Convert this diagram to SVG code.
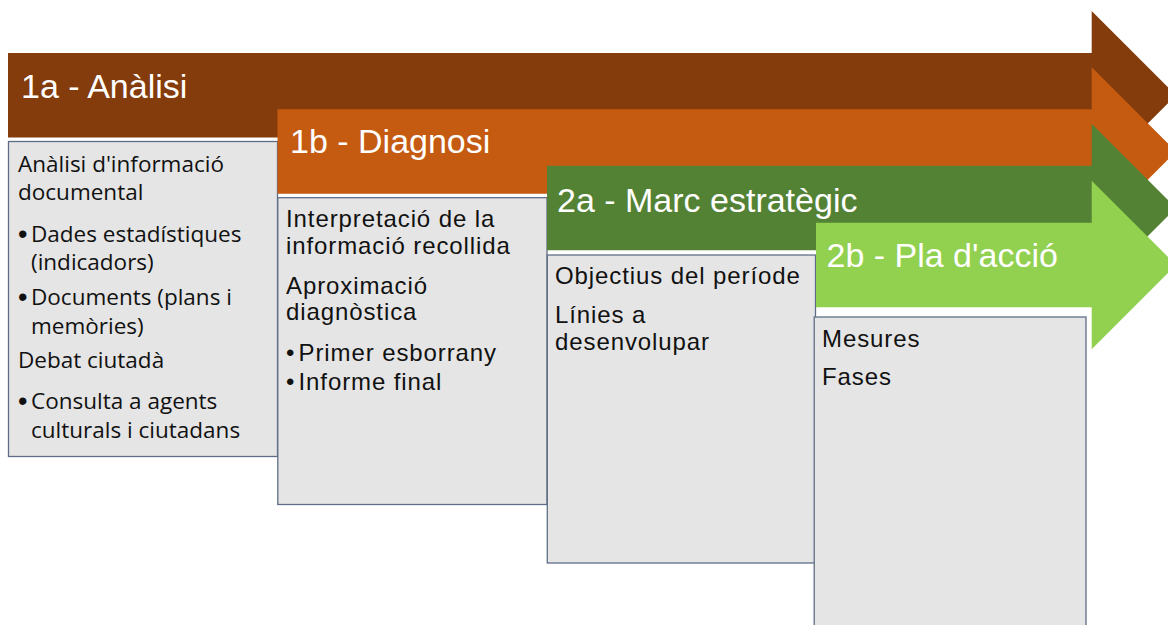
<svg xmlns="http://www.w3.org/2000/svg" width="1168" height="625" viewBox="0 0 1168 625">
<style>
.box{fill:#E5E5E5;stroke:#5F6E86;stroke-width:1.3}
.h{font-family:"Liberation Sans",Arial,sans-serif;font-size:34px;fill:#FFFFFF}
.c{font-family:"Open Sans","Noto Sans",sans-serif;font-size:22.5px;fill:#111111}
.b{font-family:"Liberation Sans",Arial,sans-serif;font-size:27px;fill:#111111}
.a{font-family:"Liberation Sans",Arial,sans-serif;font-size:24px;letter-spacing:0.9px;fill:#111111}
</style>
<rect width="1168" height="625" fill="#FFFFFF"/>
<g id="connectors"></g>
<g id="stage-1a">
<path d="M8,53 H1091.7 V11 L1176,95.25 L1091.7,179.5 V137.5 H8 Z" fill="#843C0C"/>
<rect class="box" x="8.5" y="141.5" width="269" height="315"/>
<text class="h" x="21" y="98">1a - Anàlisi</text>
<text class="c" x="18" y="171.7">Anàlisi d'informació</text>
<text class="c" x="18" y="200">documental</text>
<text class="b" x="18" y="243">•</text>
<text class="c" x="31" y="241.7">Dades estadístiques</text>
<text class="c" x="31" y="270">(indicadors)</text>
<text class="b" x="18" y="306.3">•</text>
<text class="c" x="31" y="305">Documents (plans i</text>
<text class="c" x="31" y="334">memòries)</text>
<text class="c" x="18" y="368">Debat ciutadà</text>
<text class="b" x="18" y="410.3">•</text>
<text class="c" x="31" y="409">Consulta a agents</text>
<text class="c" x="31" y="437.7">culturals i ciutadans</text>
</g>
<g id="stage-1b">
<path d="M277.5,109.3 H1091.7 V67.3 L1176,151.55 L1091.7,235.8 V193.8 H277.5 Z" fill="#C55A11"/>
<rect class="box" x="277.8" y="197.7" width="269.2" height="306.8"/>
<text class="h" x="290" y="153.3">1b - Diagnosi</text>
<text class="a" x="286" y="226.7">Interpretació de la</text>
<text class="a" x="286" y="254.3">informació recollida</text>
<text class="a" x="286" y="294">Aproximació</text>
<text class="a" x="286" y="320">diagnòstica</text>
<text class="a" x="286" y="360.7">•</text>
<text class="a" x="298.5" y="360.7">Primer esborrany</text>
<text class="a" x="286" y="390">•</text>
<text class="a" x="298.5" y="390">Informe final</text>
</g>
<g id="stage-2a">
<path d="M547,165.7 H1091.7 V123.7 L1176,207.95 L1091.7,292.2 V250.2 H547 Z" fill="#548235"/>
<rect class="box" x="547.3" y="255" width="268.2" height="308"/>
<text class="h" x="557" y="211.7">2a - Marc estratègic</text>
<text class="a" x="555" y="284">Objectius del període</text>
<text class="a" x="555" y="323.3">Línies a</text>
<text class="a" x="555" y="350">desenvolupar</text>
</g>
<g id="stage-2b">
<path d="M816,222.7 H1091.7 V180.7 L1176,264.95 L1091.7,349.2 V307.2 H816 Z" fill="#92D050"/>
<rect class="box" x="814.2" y="317" width="271.8" height="320"/>
<text class="h" x="826.5" y="267.3">2b - Pla d'acció</text>
<text class="a" x="822" y="346.7">Mesures</text>
<text class="a" x="822" y="385">Fases</text>
</g>
</svg>
